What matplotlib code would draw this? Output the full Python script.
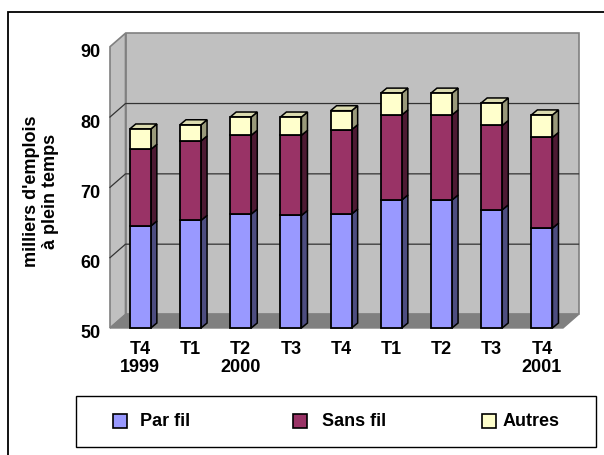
import numpy as np
import matplotlib
matplotlib.use("Agg")
import matplotlib.pyplot as plt
from matplotlib.patches import Polygon, Rectangle
from matplotlib.transforms import ScaledTranslation

plt.rcParams["font.family"] = ["Liberation Sans", "DejaVu Sans"]
plt.rcParams["font.weight"] = "bold"

# data (milliers d'emplois)
QUARTERS = ["T4\n1999", "T1", "T2\n2000", "T3", "T4", "T1", "T2", "T3", "T4\n2001"]
PAR_FIL = [64.5, 65.3, 66.2, 66.0, 66.2, 68.2, 68.2, 66.8, 64.2]
SANS_FIL = [10.9, 11.3, 11.2, 11.4, 12.0, 12.1, 12.1, 12.0, 12.9]
AUTRES = [2.9, 2.3, 2.6, 2.6, 2.7, 3.1, 3.1, 3.2, 3.2]
SERIES = ["Par fil", "Sans fil", "Autres"]
Y_TICKS = [50, 60, 70, 80, 90]
Y_MIN, Y_MAX = 50, 90

FACE = ["#9999FF", "#993366", "#FFFFCC"]
SIDE = ["#4D4D80", "#4D1A33", "#99997A"]
TOP = ["#CCCCFF", "#B35580", "#DCDCB0"]
FS = 13

W, H = 604, 455
fig = plt.figure(figsize=(W / 100, H / 100), dpi=100)

# front plane of the 3D box, in pixels
left_px, right_px, floor_px, top_px = 110, 563, 328, 46.7
ax = fig.add_axes([left_px / W, (H - floor_px) / H,
                   (right_px - left_px) / W, (floor_px - top_px) / H])
x = np.arange(len(QUARTERS))
xmin, xmax = -0.604, 8.42
ax.set_xlim(xmin, xmax)
ax.set_ylim(Y_MIN, Y_MAX)
sx = (xmax - xmin) / (right_px - left_px)
sy = (Y_MAX - Y_MIN) / (floor_px - top_px)


def off(px, py, dx, dy):
    return (px + dx * sx, py + dy * sy)


# walls and floor
WDX, WDY = 15.5, 13.5
wall_kw = dict(facecolor="#C0C0C0", edgecolor="#808080", lw=1.2, clip_on=False, zorder=0)
ax.add_patch(Polygon([off(xmin, Y_MIN, WDX, WDY), off(xmax, Y_MIN, WDX, WDY),
                      off(xmax, Y_MAX, WDX, WDY), off(xmin, Y_MAX, WDX, WDY)], **wall_kw))
ax.add_patch(Polygon([(xmin, Y_MIN), (xmin, Y_MAX), off(xmin, Y_MAX, WDX, WDY),
                      off(xmin, Y_MIN, WDX, WDY)], **wall_kw))
ax.add_patch(Polygon([(xmin, Y_MIN), (xmax, Y_MIN), off(xmax, Y_MIN, WDX, WDY),
                      off(xmin, Y_MIN, WDX, WDY)], facecolor="#808080",
                     edgecolor="#808080", lw=1, clip_on=False, zorder=0.5))
for v in Y_TICKS[1:-1]:
    p0 = (xmin, v)
    p1 = off(xmin, v, WDX, WDY)
    p2 = off(xmax, v, WDX, WDY)
    ax.plot([p0[0], p1[0], p2[0]], [p0[1], p1[1], p2[1]], color="#333333",
            lw=0.9, clip_on=False, zorder=0.6)

# stacked bars with side and top faces
BDX, BDY = 6, 5
width = 0.42
values = [PAR_FIL, SANS_FIL, AUTRES]
bottom = np.full(len(x), float(Y_MIN))
for k, (name, vals) in enumerate(zip(SERIES, values)):
    vals = np.array(vals, dtype=float)
    heights = vals - Y_MIN if k == 0 else vals
    ax.bar(x, heights, width, bottom=bottom, color=FACE[k], edgecolor="black",
           lw=1.3, zorder=3, clip_on=False)
    tops = bottom + heights
    for c, b, t in zip(x, bottom, tops):
        r = c + width / 2
        ax.add_patch(Polygon([(r, b), (r, t), off(r, t, BDX, BDY), off(r, b, BDX, BDY)],
                             facecolor=SIDE[k], edgecolor="black", lw=1.1,
                             clip_on=False, zorder=2))
        if k == len(values) - 1:
            l = c - width / 2
            ax.add_patch(Polygon([(l, t), (r, t), off(r, t, BDX, BDY), off(l, t, BDX, BDY)],
                                 facecolor=TOP[k], edgecolor="black", lw=1.1,
                                 clip_on=False, zorder=2))
    bottom = tops

for s in ax.spines.values():
    s.set_visible(False)
ax.set_xticks(x)
ax.set_xticklabels(QUARTERS, fontsize=FS, fontweight="bold", linespacing=1.1)
ax.set_yticks(Y_TICKS)
ax.set_yticklabels([str(v) for v in Y_TICKS], fontsize=FS, fontweight="bold")
ax.tick_params(axis="both", length=0)
ax.tick_params(axis="x", pad=9)
ax.tick_params(axis="y", pad=7)
shift = ScaledTranslation(0, -4 / 100, fig.dpi_scale_trans)
for lab in ax.get_yticklabels():
    lab.set_transform(lab.get_transform() + shift)

fig.text(41 / W, 1 - 191 / H, "milliers d'emplois\nà plein temps", rotation=90,
         ha="center", va="center", multialignment="center", fontsize=FS,
         fontweight="bold", linespacing=1.15)

# outer frame
fig.patches.append(Rectangle((7.7 / W, -0.05), 1.2, 1 - 11.7 / H + 0.05,
                             transform=fig.transFigure, fill=False,
                             edgecolor="black", lw=1.3))

# legend box
fig.patches.append(Rectangle((76 / W, 1 - 447 / H), 520 / W, 51 / H,
                             transform=fig.transFigure, fill=False,
                             edgecolor="black", lw=1.0))
leg_sq = [113, 293, 482]
leg_txt = [140, 322, 503]
for k, name in enumerate(SERIES):
    fig.patches.append(Rectangle((leg_sq[k] / W, 1 - 428 / H), 14 / W, 14 / H,
                                 transform=fig.transFigure, facecolor=FACE[k],
                                 edgecolor="black", lw=1.2))
    fig.text(leg_txt[k] / W, 1 - 421 / H, name, ha="left", va="center",
             fontsize=FS, fontweight="bold")

fig.savefig("out.png", dpi=100)
plt.close(fig)
